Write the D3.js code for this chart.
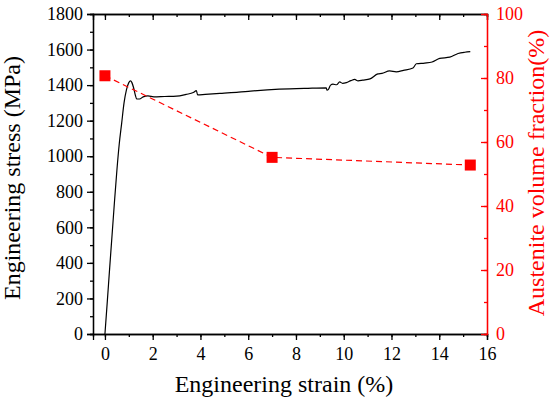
<!DOCTYPE html>
<html>
<head>
<meta charset="utf-8">
<script src="https://cdn.jsdelivr.net/npm/d3@7"></script>
<style>
body { margin: 0; background: #fff; }
.axis path, .axis line { stroke-width: 1.3; }
.raxis path, .raxis line { stroke: red; }
</style>
</head>
<body>
<div id="chart"></div>
<script>
// stress-strain curve
var strain = [0, 0.1, 0.2, 0.3, 0.4, 0.5, 0.6, 0.7, 0.8, 0.9, 1.0, 1.07, 1.13, 1.2, 1.27, 1.33, 1.45, 1.6, 1.8, 2.05,
    2.5, 3.0, 3.4, 3.7, 3.83, 3.88, 4.2, 4.9, 5.6, 6.1, 7.3, 8.5, 9.27, 9.3, 9.36, 9.45, 9.55, 9.7, 9.83, 9.95,
    10.11, 10.3, 10.46, 10.6, 10.8, 11.1, 11.43, 11.6, 11.92, 12.2, 12.5, 12.9, 13.04, 13.39, 13.7, 14.02, 14.44, 14.79, 15.07, 15.3];
var stress = [0, 185, 375, 560, 745, 920, 1070, 1185, 1300, 1373, 1414, 1424, 1414, 1385, 1345, 1322, 1322, 1334, 1339, 1334,
    1336, 1338, 1348, 1358, 1369, 1345, 1348, 1354, 1360, 1366, 1377, 1382, 1384, 1372, 1376, 1400, 1405, 1402, 1418, 1410,
    1414, 1425, 1432, 1424, 1428, 1435, 1463, 1466, 1480, 1475, 1483, 1496, 1520, 1524, 1530, 1550, 1557, 1578, 1585, 1588];

// austenite fraction points
var austStrain = [0, 7.0, 15.3];
var austFrac = [80.7, 55.2, 52.8];

var xTicks = [0, 2, 4, 6, 8, 10, 12, 14, 16];
var yTicks = [0, 200, 400, 600, 800, 1000, 1200, 1400, 1600, 1800];
var y2Ticks = [0, 20, 40, 60, 80, 100];

var serif = '"Liberation Serif", "Times New Roman", serif';

var margin = { top: 14, left: 93, bottom: 65, right: 66 },
    width = 553 - margin.left - margin.right,
    height = 399 - margin.top - margin.bottom;

var root = d3.select('#chart').append('svg')
    .attr('width', 553)
    .attr('height', 399)
    .attr('font-family', serif);

var svg = root.append('g')
    .attr('transform', 'translate(' + margin.left + ',' + margin.top + ')');

var x = d3.scaleLinear().domain([-0.5, 16]).range([0, width]);
var y = d3.scaleLinear().domain([0, 1800]).range([height, 0]);
var y2 = d3.scaleLinear().domain([0, 100]).range([height, 0]);

var xMinor = d3.range(0, 17, 1);
var yMinor = d3.range(0, 1801, 100);
var y2Minor = d3.range(0, 101, 10);

// bottom axis
svg.append('g').attr('class', 'axis')
    .attr('transform', 'translate(0,' + height + ')')
    .call(d3.axisBottom(x).tickValues(xMinor).tickSize(3).tickFormat(''));
svg.append('g').attr('class', 'axis')
    .attr('transform', 'translate(0,' + height + ')')
    .call(d3.axisBottom(x).tickValues(xTicks).tickSize(6).tickPadding(7).tickFormat(d3.format('d')));

// top axis, ticks inward
svg.append('g').attr('class', 'axis')
    .call(d3.axisTop(x).tickValues(xMinor).tickSize(-3).tickFormat(''));
svg.append('g').attr('class', 'axis')
    .call(d3.axisTop(x).tickValues(xTicks).tickSize(-6).tickFormat(''));

// left axis
svg.append('g').attr('class', 'axis')
    .call(d3.axisLeft(y).tickValues(yMinor).tickSize(3).tickFormat(''));
svg.append('g').attr('class', 'axis')
    .call(d3.axisLeft(y).tickValues(yTicks).tickSize(6).tickPadding(4).tickFormat(d3.format('d')));

// right axis, red, ticks inward
svg.append('g').attr('class', 'axis raxis')
    .attr('transform', 'translate(' + width + ',0)')
    .call(d3.axisRight(y2).tickValues(y2Minor).tickSize(-3).tickFormat(''));
svg.append('g').attr('class', 'axis raxis')
    .attr('transform', 'translate(' + width + ',0)')
    .call(d3.axisRight(y2).tickValues(y2Ticks).tickSizeInner(-6).tickSizeOuter(0).tickPadding(9).tickFormat(d3.format('d')));

// d3 puts sans-serif 10 on the axis groups, override it
svg.selectAll('.axis')
    .attr('font-family', serif)
    .attr('font-size', 18);
svg.selectAll('.axis text').attr('fill', '#000');
svg.selectAll('.raxis text').attr('fill', 'red');

// stress curve
var curve = strain.map((d, i) => [d, stress[i]]);
svg.append('path')
    .datum(curve)
    .attr('fill', 'none')
    .attr('stroke', '#000')
    .attr('stroke-width', 1.2)
    .attr('d', d3.line().x(d => x(d[0])).y(d => y(d[1])).curve(d3.curveMonotoneX));

// austenite dashed line + squares
var aust = austStrain.map((d, i) => [d, austFrac[i]]);
svg.append('path')
    .datum(aust)
    .attr('fill', 'none')
    .attr('stroke', 'red')
    .attr('stroke-width', 1.2)
    .attr('stroke-dasharray', '6,4')
    .attr('d', d3.line().x(d => x(d[0])).y(d => y2(d[1])));

var sq = 11;
svg.selectAll('.sq')
    .data(aust)
    .enter()
    .append('rect')
    .attr('class', 'sq')
    .attr('x', d => x(d[0]) - sq / 2)
    .attr('y', d => y2(d[1]) - sq / 2)
    .attr('width', sq)
    .attr('height', sq)
    .attr('fill', 'red');

// axis titles
root.append('text')
    .attr('x', margin.left + width / 2 - 6)
    .attr('y', 392)
    .attr('text-anchor', 'middle')
    .attr('font-size', 24)
    .text('Engineering strain (%)');

root.append('text')
    .attr('transform', 'translate(20,178) rotate(-90)')
    .attr('text-anchor', 'middle')
    .attr('font-size', 24)
    .text('Engineering stress (MPa)');

root.append('text')
    .attr('transform', 'translate(544,173) rotate(-90)')
    .attr('text-anchor', 'middle')
    .attr('fill', 'red')
    .attr('font-size', 24)
    .text('Austenite volume fraction(%)');
</script>
</body>
</html>
